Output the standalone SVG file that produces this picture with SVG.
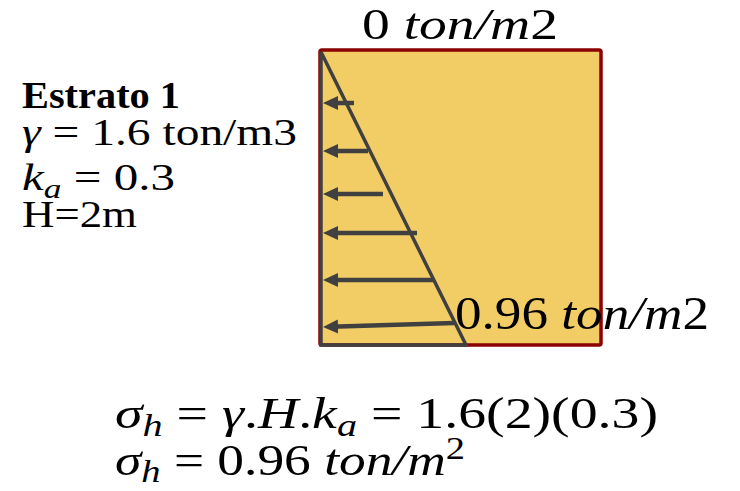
<svg xmlns="http://www.w3.org/2000/svg" width="740" height="491" viewBox="0 0 740 491">
<style>
text{font-family:"Liberation Serif","DejaVu Serif",serif;fill:#000}
.it{font-style:italic}
.sub{font-size:0.72em}
.ln{stroke:#404040;stroke-width:3.5;fill:none;stroke-linejoin:miter}
.ar{stroke:#404040;stroke-width:4.5;fill:none;marker-end:url(#ah)}
</style>
<defs>
<marker id="ah" markerUnits="userSpaceOnUse" markerWidth="15" markerHeight="15" refX="7" refY="7" orient="auto" viewBox="0 0 15 14">
<path d="M0,0 L15,7 L0,14 z" fill="#404040"/>
</marker>
</defs>
<g id="soil">
<rect x="320" y="50" width="281" height="295" rx="2" fill="#F2CD66" stroke="#8B0000" stroke-width="3.5"/>
</g>
<g id="pressure">
<polygon class="ln" points="321,52 321,345 466,345"/>
</g>
<g id="connectors">
<line class="ar" x1="354" y1="103" x2="331" y2="103"/>
<line class="ar" x1="368" y1="151" x2="331" y2="151"/>
<line class="ar" x1="383" y1="194" x2="331" y2="194"/>
<line class="ar" x1="417" y1="233" x2="331" y2="233"/>
<line class="ar" x1="433" y1="280" x2="331" y2="280"/>
<line class="ar" x1="454" y1="323" x2="331" y2="326.7"/>
</g>
<g id="top-label">
<text x="362" y="39" font-size="44" textLength="196" lengthAdjust="spacingAndGlyphs">0 <tspan class="it">ton/m</tspan>2</text>
</g>
<g id="bottom-label">
<text x="455" y="329" font-size="46" textLength="254" lengthAdjust="spacingAndGlyphs">0.96 <tspan class="it">ton/m</tspan>2</text>
</g>
<g id="strata">
<text x="22" y="108" font-size="38" font-weight="bold" textLength="158" lengthAdjust="spacingAndGlyphs">Estrato 1</text>
<text x="22" y="145" font-size="37" textLength="275" lengthAdjust="spacingAndGlyphs"><tspan class="it">γ</tspan> = 1.6 ton/m3</text>
<text x="22" y="190" font-size="38" textLength="153" lengthAdjust="spacingAndGlyphs"><tspan class="it">k</tspan><tspan class="it sub" dy="8">a</tspan><tspan dy="-8"> = 0.3</tspan></text>
<text x="22" y="227" font-size="37" textLength="115" lengthAdjust="spacingAndGlyphs">H=2m</text>
</g>
<g id="equations">
<text x="115" y="428" font-size="45" textLength="543" lengthAdjust="spacingAndGlyphs"><tspan class="it">σ</tspan><tspan class="it sub" dy="8">h</tspan><tspan dy="-8"> = </tspan><tspan class="it">γ</tspan>.<tspan class="it">H</tspan>.<tspan class="it">k</tspan><tspan class="it sub" dy="8">a</tspan><tspan dy="-8"> = 1.6(2)(0.3)</tspan></text>
<text x="115" y="475" font-size="45" textLength="350" lengthAdjust="spacingAndGlyphs"><tspan class="it">σ</tspan><tspan class="it sub" dy="7">h</tspan><tspan dy="-7"> = 0.96 </tspan><tspan class="it">ton/m</tspan><tspan class="sub" dy="-16">2</tspan></text>
</g>
</svg>
